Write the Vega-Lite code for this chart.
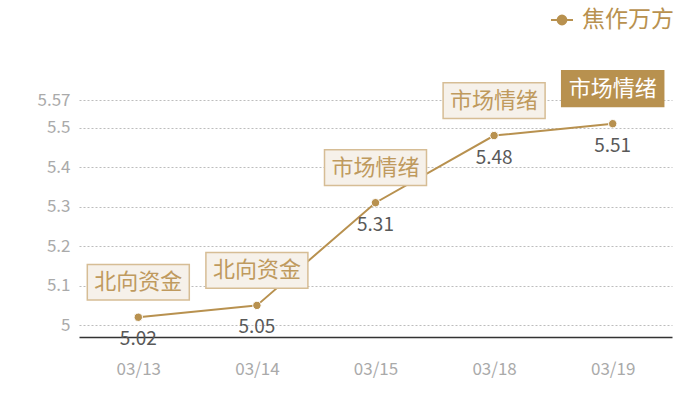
{
  "$schema": "https://vega.github.io/schema/vega-lite/v6.json",
  "width": 593,
  "height": 237,
  "autosize": "none",
  "padding": {"left": 79, "top": 100, "right": 28, "bottom": 63},
  "config": {
    "font": "Noto Sans CJK SC",
    "view": {"stroke": null}
  },
  "data": {
    "values": [
      {"date": "03/13", "value": 5.02, "tag": "北向资金", "hl": false, "series": "焦作万方"},
      {"date": "03/14", "value": 5.05, "tag": "北向资金", "hl": false, "series": "焦作万方"},
      {"date": "03/15", "value": 5.31, "tag": "市场情绪", "hl": false, "series": "焦作万方"},
      {"date": "03/18", "value": 5.48, "tag": "市场情绪", "hl": false, "series": "焦作万方"},
      {"date": "03/19", "value": 5.51, "tag": "市场情绪", "hl": true, "series": "焦作万方"}
    ]
  },
  "encoding": {
    "x": {
      "field": "date", "type": "ordinal",
      "scale": {"type": "point", "padding": 0.5},
      "axis": {
        "title": null, "labelAngle": 0, "ticks": false, "grid": false,
        "domainColor": "#333333", "domainWidth": 1.5,
        "labelColor": "#aaaaaa", "labelFontSize": 17, "labelPadding": 24
      }
    },
    "y": {
      "field": "value", "type": "quantitative",
      "scale": {"domain": [4.97, 5.57], "nice": false, "zero": false},
      "axis": {
        "title": null, "values": [5, 5.1, 5.2, 5.3, 5.4, 5.5, 5.57],
        "labelExpr": "datum.value", "domain": false, "ticks": false,
        "gridColor": "#bdbdbd", "gridDash": [2, 2], "gridWidth": 1,
        "labelColor": "#aaaaaa", "labelFontSize": 17, "labelPadding": 9
      }
    }
  },
  "layer": [
    {
      "mark": {"type": "line", "strokeWidth": 2},
      "encoding": {
        "color": {
          "field": "series", "type": "nominal",
          "scale": {"range": ["#b8914f"]},
          "legend": {
            "title": null, "orient": "none", "legendX": 471, "legendY": -92,
            "symbolType": "M-1,0L-0.4,0M0.4,0L1,0M0.4,0A0.4,0.4 0 1,1 -0.4,0A0.4,0.4 0 1,1 0.4,0Z",
            "symbolSize": 484, "symbolStrokeWidth": 2,
            "symbolFillColor": "#b8914f", "symbolStrokeColor": "#b8914f",
            "labelColor": "#b8914f", "labelFontSize": 23, "labelOffset": 8
          }
        }
      }
    },
    {
      "mark": {"type": "point", "filled": true, "size": 70, "color": "#b8914f", "opacity": 1, "stroke": "#ffffff", "strokeWidth": 1}
    },
    {
      "mark": {"type": "text", "dy": 22, "fontSize": 19, "color": "#595959", "baseline": "middle"},
      "encoding": {"text": {"field": "value", "type": "quantitative", "format": ".2f"}}
    },
    {
      "mark": {
        "type": "point", "filled": true, "opacity": 1, "size": 10404, "yOffset": -35,
        "shape": "M-1,-0.35L1,-0.35L1,0.35L-1,0.35Z", "strokeWidth": 1.5
      },
      "encoding": {
        "fill": {"condition": {"test": "datum.hl", "value": "#b8914f"}, "value": "#f6f1ea"},
        "stroke": {"condition": {"test": "datum.hl", "value": "#b8914f"}, "value": "#d6bd95"}
      }
    },
    {
      "mark": {"type": "text", "dy": -35, "fontSize": 22, "baseline": "middle"},
      "encoding": {
        "text": {"field": "tag"},
        "color": {"condition": {"test": "datum.hl", "value": "#ffffff"}, "value": "#bf9a5e"}
      }
    }
  ]
}
